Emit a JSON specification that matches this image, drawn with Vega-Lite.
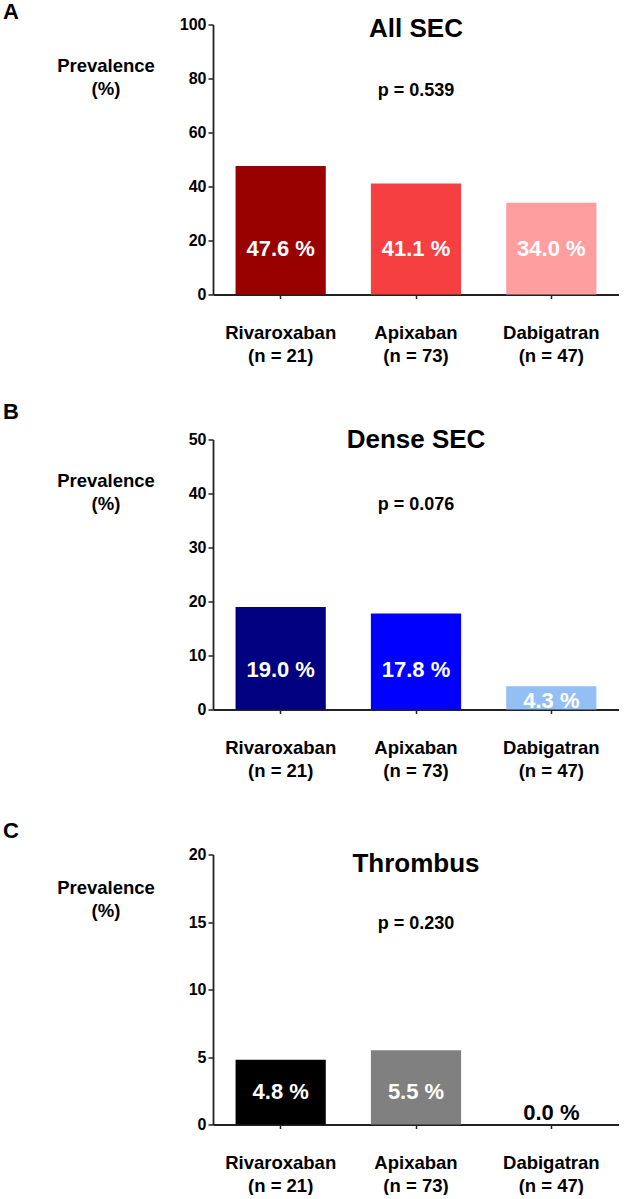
{
  "$schema": "https://vega.github.io/schema/vega-lite/v6.json",
  "background": "white",
  "padding": {"left": 3, "top": 0.5, "right": 0, "bottom": 0},
  "bounds": "flush",
  "spacing": 145,
  "resolve": {"scale": {"color": "independent"}},
  "config": {
    "view": {"stroke": null},
    "font": "Liberation Sans",
    "title": {"anchor": "start", "frame": "group", "fontSize": 22, "fontWeight": "bold", "font": "Liberation Sans", "color": "black", "dx": -210, "offset": -8.5},
    "axis": {"domainColor": "#222222", "domainWidth": 1.8, "tickColor": "#222222", "tickWidth": 1.5, "labelFont": "Liberation Sans", "labelFontWeight": "bold", "labelColor": "black", "grid": false, "titleFont": "Liberation Sans", "titleFontWeight": "bold", "titleColor": "black"},
    "axisX": {"labelFontSize": 18.5, "labelLineHeight": 23, "labelPadding": 24.5, "tickSize": 4, "labelAngle": 0, "title": null, "labelExpr": "split(datum.label, '|')"},
    "axisY": {"labelFontSize": 16, "tickSize": 5, "labelPadding": 2, "titleAngle": 0, "titleAlign": "center", "titleBaseline": "top", "titleX": -107.5, "titleFontSize": 18.5, "titleLineHeight": 23},
    "text": {"font": "Liberation Sans", "fontWeight": "bold"}
  },
  "datasets": {
    "sec": [
      {"drug": "Rivaroxaban|(n = 21)", "value": 47.6, "label": "47.6 %"},
      {"drug": "Apixaban|(n = 73)", "value": 41.1, "label": "41.1 %"},
      {"drug": "Dabigatran|(n = 47)", "value": 34.0, "label": "34.0 %"}
    ],
    "dense": [
      {"drug": "Rivaroxaban|(n = 21)", "value": 19.0, "label": "19.0 %"},
      {"drug": "Apixaban|(n = 73)", "value": 17.8, "label": "17.8 %"},
      {"drug": "Dabigatran|(n = 47)", "value": 4.3, "label": "4.3 %"}
    ],
    "thrombus": [
      {"drug": "Rivaroxaban|(n = 21)", "value": 4.8, "label": "4.8 %"},
      {"drug": "Apixaban|(n = 73)", "value": 5.5, "label": "5.5 %"},
      {"drug": "Dabigatran|(n = 47)", "value": 0.0, "label": "0.0 %"}
    ]
  },
  "vconcat": [
    {
      "title": {"text": "A"},
      "width": 406,
      "height": 270,
      "data": {"name": "sec"},
      "encoding": {
        "x": {"field": "drug", "type": "nominal", "sort": null, "scale": {"paddingInner": 0.3333, "paddingOuter": 0.1667}}
      },
      "layer": [
        {
          "mark": "bar",
          "encoding": {
            "y": {"field": "value", "type": "quantitative", "scale": {"domain": [0, 100]}, "axis": {"values": [0, 20, 40, 60, 80, 100], "title": ["Prevalence", "(%)"], "titleY": 31.6}},
            "color": {"field": "drug", "type": "nominal", "sort": null, "scale": {"domain": ["Rivaroxaban|(n = 21)", "Apixaban|(n = 73)", "Dabigatran|(n = 47)"], "range": ["#990000", "#f63f41", "#ff9e9e"]}, "legend": null}
          }
        },
        {
          "mark": {"type": "text", "color": "white", "fontSize": 22, "baseline": "middle"},
          "encoding": {"y": {"datum": 16.7}, "text": {"field": "label"}}
        },
        {
          "data": {"values": [{"t": "All SEC"}]},
          "mark": {"type": "text", "color": "black", "fontSize": 26, "baseline": "middle", "dy": 4},
          "encoding": {"x": {"datum": "Apixaban|(n = 73)"}, "y": {"datum": 100}, "text": {"field": "t"}}
        },
        {
          "data": {"values": [{"t": "p = 0.539"}]},
          "mark": {"type": "text", "color": "black", "fontSize": 18, "baseline": "middle"},
          "encoding": {"x": {"datum": "Apixaban|(n = 73)"}, "y": {"datum": 75.2}, "text": {"field": "t"}}
        }
      ]
    },
    {
      "title": {"text": "B", "offset": 3.5},
      "width": 406,
      "height": 270,
      "data": {"name": "dense"},
      "encoding": {
        "x": {"field": "drug", "type": "nominal", "sort": null, "scale": {"paddingInner": 0.3333, "paddingOuter": 0.1667}}
      },
      "layer": [
        {
          "mark": "bar",
          "encoding": {
            "y": {"field": "value", "type": "quantitative", "scale": {"domain": [0, 50]}, "axis": {"values": [0, 10, 20, 30, 40, 50], "title": ["Prevalence", "(%)"], "titleY": 31.6}},
            "color": {"field": "drug", "type": "nominal", "sort": null, "scale": {"domain": ["Rivaroxaban|(n = 21)", "Apixaban|(n = 73)", "Dabigatran|(n = 47)"], "range": ["#000080", "#0000ff", "#93bff5"]}, "legend": null}
          }
        },
        {
          "transform": [{"filter": "datum.value > 5"}],
          "mark": {"type": "text", "color": "white", "fontSize": 22, "baseline": "middle"},
          "encoding": {"y": {"datum": 7.35}, "text": {"field": "label"}}
        },
        {
          "transform": [{"filter": "datum.value <= 5"}],
          "mark": {"type": "text", "color": "white", "fontSize": 22, "baseline": "middle"},
          "encoding": {"y": {"datum": 1.6}, "text": {"field": "label"}}
        },
        {
          "data": {"values": [{"t": "Dense SEC"}]},
          "mark": {"type": "text", "color": "black", "fontSize": 26, "baseline": "middle", "dy": 0.5},
          "encoding": {"x": {"datum": "Apixaban|(n = 73)"}, "y": {"datum": 50}, "text": {"field": "t"}}
        },
        {
          "data": {"values": [{"t": "p = 0.076"}]},
          "mark": {"type": "text", "color": "black", "fontSize": 18, "baseline": "middle"},
          "encoding": {"x": {"datum": "Apixaban|(n = 73)"}, "y": {"datum": 37.9}, "text": {"field": "t"}}
        }
      ]
    },
    {
      "title": {"text": "C", "offset": 3.5},
      "width": 406,
      "height": 270,
      "data": {"name": "thrombus"},
      "encoding": {
        "x": {"field": "drug", "type": "nominal", "sort": null, "scale": {"paddingInner": 0.3333, "paddingOuter": 0.1667}}
      },
      "layer": [
        {
          "mark": "bar",
          "encoding": {
            "y": {"field": "value", "type": "quantitative", "scale": {"domain": [0, 20]}, "axis": {"values": [0, 5, 10, 15, 20], "title": ["Prevalence", "(%)"], "titleY": 24.3}},
            "color": {"field": "drug", "type": "nominal", "sort": null, "scale": {"domain": ["Rivaroxaban|(n = 21)", "Apixaban|(n = 73)", "Dabigatran|(n = 47)"], "range": ["#000000", "#808080", "#c0c0c0"]}, "legend": null}
          }
        },
        {
          "transform": [{"filter": "datum.value > 1"}],
          "mark": {"type": "text", "color": "white", "fontSize": 22, "baseline": "middle"},
          "encoding": {"y": {"datum": 2.39}, "text": {"field": "label"}}
        },
        {
          "transform": [{"filter": "datum.value <= 1"}],
          "mark": {"type": "text", "color": "black", "fontSize": 22, "baseline": "middle"},
          "encoding": {"y": {"datum": 0.87}, "text": {"field": "label"}}
        },
        {
          "data": {"values": [{"t": "Thrombus"}]},
          "mark": {"type": "text", "color": "black", "fontSize": 26, "baseline": "middle", "dy": 9.5},
          "encoding": {"x": {"datum": "Apixaban|(n = 73)"}, "y": {"datum": 20}, "text": {"field": "t"}}
        },
        {
          "data": {"values": [{"t": "p = 0.230"}]},
          "mark": {"type": "text", "color": "black", "fontSize": 18, "baseline": "middle"},
          "encoding": {"x": {"datum": "Apixaban|(n = 73)"}, "y": {"datum": 14.85}, "text": {"field": "t"}}
        }
      ]
    }
  ]
}
